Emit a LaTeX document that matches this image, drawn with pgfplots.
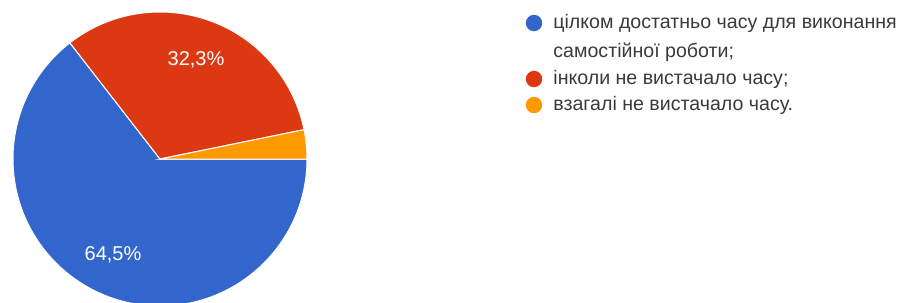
\documentclass[border=0pt]{standalone}
\usepackage{pgfplots}
\usepackage{pgfplotstable}
\pgfplotsset{compat=1.18}
\usepackage{fontspec}
\setmainfont{Liberation Sans}
\definecolor{gblue}{HTML}{3366CC}
\definecolor{gred}{HTML}{DC3912}
\definecolor{gorange}{HTML}{FF9900}
\definecolor{txt}{HTML}{3A3A3A}

\pgfplotstableread{
share
64.5
32.3
3.2
}\piedata
\pgfplotstablegetelem{0}{share}\of\piedata \let\vA\pgfplotsretval
\pgfplotstablegetelem{1}{share}\of\piedata \let\vB\pgfplotsretval
\pgfplotstablegetelem{2}{share}\of\piedata \let\vC\pgfplotsretval
\pgfmathsetmacro\aA{-3.6*\vA}
\pgfmathsetmacro\aB{\aA-3.6*\vB}
\pgfmathsetmacro\aC{\aB-3.6*\vC}

\begin{document}
\begin{tikzpicture}
\useasboundingbox (0,0) rectangle (452pt,151pt);
\begin{axis}[
  at={(0,0)}, anchor=south west,
  x=0.5pt, y=0.5pt, scale only axis,
  xmin=0, xmax=904, ymin=-302, ymax=0,
  hide axis, clip=true,
]
\def\R{73.5pt}
\fill[gblue, draw=white, line width=0.5pt] (axis cs:160,-159) -- ++(0:\R) arc[start angle=0, end angle=\aA, radius=\R] -- cycle;
\fill[gred, draw=white, line width=0.5pt] (axis cs:160,-159) -- ++(\aA:\R) arc[start angle=\aA, end angle=\aB, radius=\R] -- cycle;
\fill[gorange, draw=white, line width=0.5pt] (axis cs:160,-159) -- ++(\aB:\R) arc[start angle=\aB, end angle=\aC, radius=\R] -- cycle;

\node[white, font=\fontsize{10pt}{12pt}\selectfont] at (axis cs:196,-60) {32,3\%};
\node[white, font=\fontsize{10pt}{12pt}\selectfont] at (axis cs:113,-255) {64,5\%};

\fill[gblue] (axis cs:534,-23) circle[radius=4.1pt];
\fill[gred] (axis cs:534,-79) circle[radius=4.1pt];
\fill[gorange] (axis cs:534,-105) circle[radius=4.1pt];

\node[txt, anchor=mid west, inner sep=0pt, font=\fontsize{9.8pt}{11pt}\selectfont] at (axis cs:553,-23) {цілком достатньо часу для виконання};
\node[txt, anchor=mid west, inner sep=0pt, font=\fontsize{9.8pt}{11pt}\selectfont] at (axis cs:553,-52) {самостійної роботи;};
\node[txt, anchor=mid west, inner sep=0pt, font=\fontsize{9.8pt}{11pt}\selectfont] at (axis cs:553,-79) {інколи не вистачало часу;};
\node[txt, anchor=mid west, inner sep=0pt, font=\fontsize{9.8pt}{11pt}\selectfont] at (axis cs:553,-105) {взагалі не вистачало часу.};
\end{axis}
\end{tikzpicture}
\end{document}
